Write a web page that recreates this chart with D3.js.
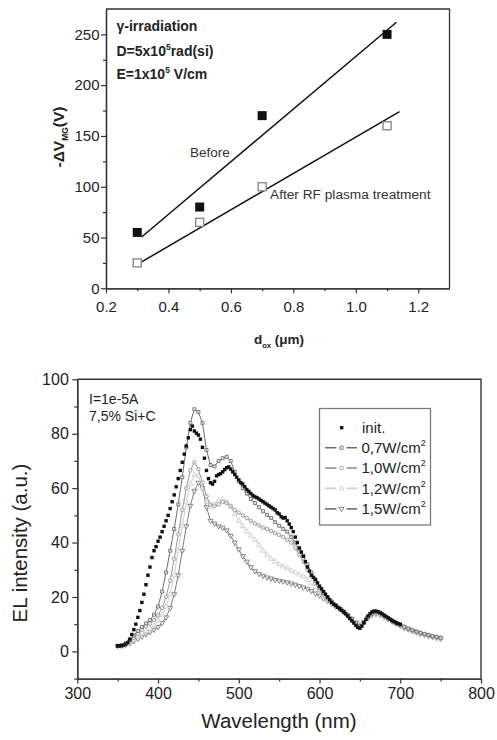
<!DOCTYPE html>
<html>
<head>
<meta charset="utf-8">
<script src="https://cdn.jsdelivr.net/npm/d3@7"></script>
<style>
  html, body { margin: 0; padding: 0; background: #fff; }
  svg { display: block; font-family: "Liberation Sans", Arial, Helvetica, sans-serif; }
</style>
</head>
<body>
<svg id="fig" width="497" height="740"></svg>
<script>
// ---------- Panel 1: flat-band shift vs. oxide thickness ----------
const doxValues = [0.3, 0.5, 0.7, 1.1];
const shiftBefore = [55, 80, 170, 250];
const shiftAfter = [25, 65, 100, 160];
// linear fits drawn as segments [x, y]
const fitBefore = [[0.314, 50.5], [1.13, 262]];
const fitAfter = [[0.314, 26], [1.14, 174]];
const topXTicks = [0.2, 0.4, 0.6, 0.8, 1.0, 1.2];
const topXMinor = [0.3, 0.5, 0.7, 0.9, 1.1];
const topYTicks = [0, 50, 100, 150, 200, 250];
const topYMinor = [25, 75, 125, 175, 225];

// ---------- Panel 2: EL spectra ----------
const initWavelength = d3.range(350, 700.01, 2.5);
const initIntensity = [
  2.0, 2.0, 2.1, 2.3, 2.7, 3.3, 4.5, 6.2, 8.0, 10.0,
  12.5, 15.0, 18.0, 21.0, 24.5, 28.0, 31.0, 34.5, 37.0, 38.5,
  40.5, 42.0, 44.0, 46.0, 48.0, 50.0, 52.5, 55.0, 57.5, 60.5,
  63.5, 66.5, 69.5, 72.5, 75.5, 78.5, 81.5, 82.8, 81.0, 80.2,
  79.5, 78.0, 75.0, 71.0, 66.5, 63.5, 62.0, 61.5, 62.5, 64.5,
  65.0, 65.3, 66.0, 66.8, 67.5, 67.8, 67.0, 66.0, 65.0, 64.0,
  63.0, 62.0, 61.5, 60.5, 59.5, 58.8, 58.0, 57.3, 56.8, 56.5,
  56.0, 55.5, 55.0, 54.5, 54.0, 53.5, 53.0, 52.5, 52.0, 51.0,
  50.5, 49.5, 49.0, 49.2, 48.0, 46.8, 45.5, 44.0, 42.0, 40.0,
  38.0, 36.5, 35.0, 33.0, 31.0, 29.5, 28.0, 27.2, 26.5, 25.2,
  24.0, 23.0, 22.0, 21.0, 20.0, 19.0, 18.0, 17.4, 16.8, 16.2,
  15.7, 15.1, 14.5, 13.8, 13.0, 12.1, 11.2, 10.4, 9.5, 8.8,
  8.5, 9.3, 10.5, 11.8, 13.0, 13.9, 14.5, 14.8, 14.8, 14.6,
  14.3, 13.8, 13.3, 12.8, 12.3, 11.8, 11.3, 10.9, 10.5, 10.2,
  10.0
];
const treatedWavelength = d3.range(350, 750.01, 5);
const el07 = [
  2.0, 2.3, 3.0, 4.2, 5.8, 7.5, 9.0, 10.3, 11.5, 13.5,
  16.5, 22, 29, 37, 45, 54, 64, 75, 84, 89,
  88, 84, 74, 68.5, 68, 70, 71, 71.5, 70, 66,
  62.5, 60, 58, 56, 54.5, 53, 51.5, 50.2, 49, 47.5,
  46.2, 45, 44, 42, 40, 37.5, 35, 32, 29, 26,
  23.5, 21.5, 19.8, 18.3, 17, 15.8, 14.6, 13.2, 11.8, 10.3,
  9.3, 10.6, 12.6, 14, 14.5, 14.1, 13.2, 12.3, 11.4, 10.5,
  9.7, 9.0, 8.4, 7.8, 7.3, 6.8, 6.4, 6.0, 5.6, 5.3,
  5.0
];
const el10 = [
  2.0, 2.2, 2.8, 3.8, 5.0, 6.5, 8.0, 9.2, 10.2, 11.5,
  13.3, 16, 20, 26, 34, 43, 52, 60, 66.5, 69.5,
  67, 62, 57, 54, 53.5, 54, 55, 54.5, 53.5, 52,
  51, 50, 49, 48, 47, 46.3, 45.5, 45, 44.2, 43.5,
  42.8, 42, 41, 40, 38, 35.5, 33, 30, 27.5, 25,
  22.5, 21, 19.5, 18.2, 17, 15.8, 14.6, 13.3, 11.9, 10.5,
  9.5, 10.6, 12.5, 13.8, 14.2, 13.9, 13.0, 12.1, 11.2, 10.4,
  9.6, 8.9, 8.3, 7.7, 7.2, 6.7, 6.3, 5.9, 5.5, 5.2,
  4.9
];
const el12 = [
  2.0, 2.1, 2.5, 3.3, 4.3, 5.5, 6.6, 7.5, 8.3, 9.5,
  11.4, 13.5, 16.5, 21, 28, 37, 46, 55, 61.5, 65,
  64.5, 60, 55, 53, 54, 55.5, 56, 55, 53, 50.5,
  48, 46, 44, 42.5, 41, 39, 37, 35.5, 34, 33,
  32, 31.2, 30.5, 29.7, 29, 28.2, 27.5, 26.3, 25, 23.7,
  22, 20.5, 19.3, 18, 16.8, 15.7, 14.5, 13.2, 11.9, 10.6,
  9.7, 10.7, 12.4, 13.6, 14.0, 13.7, 12.9, 12.0, 11.1, 10.3,
  9.5, 8.8, 8.2, 7.6, 7.1, 6.6, 6.2, 5.8, 5.4, 5.1,
  4.8
];
const el15 = [
  2.0, 2.1, 2.4, 3.0, 3.8, 4.7, 5.5, 6.3, 7.1, 8.0,
  9.0, 10.5, 12.5, 16, 21, 28, 37, 46, 53.5, 59,
  62, 60, 53, 48, 47, 46, 45.5, 44.5, 42.5, 40,
  37.5, 35, 33, 31, 29.5, 28.5, 27.8, 27.2, 26.8, 26.3,
  26, 25.7, 25.4, 25, 24.5, 24, 23.5, 23, 22.2, 21.3,
  20.5, 19.5, 18.5, 17.5, 16.5, 15.5, 14.4, 13.2, 12.0, 10.7,
  9.8, 10.8, 12.3, 13.4, 13.8, 13.5, 12.7, 11.9, 11.0, 10.2,
  9.4, 8.7, 8.1, 7.5, 7.0, 6.5, 6.1, 5.7, 5.3, 5.0,
  4.7
];
const powerLabels = ["0,7W/cm", "1,0W/cm", "1,2W/cm", "1,5W/cm"];
const botXTicks = [300, 400, 500, 600, 700, 800];
const botXMinor = [350, 450, 550, 650, 750];
const botYTicks = [0, 20, 40, 60, 80, 100];
const botYMinor = [-10, 10, 30, 50, 70, 90];

const svg = d3.select("#fig");
const axisColor = "#333";

// ================= Panel 1 =================
const x1 = d3.scaleLinear().domain([0.2, 1.3]).range([106, 449.5]);
const y1 = d3.scaleLinear().domain([0, 275]).range([288.3, 9]);
const p1 = svg.append("g");

function styleAxis(g) {
  g.select(".domain").attr("stroke", axisColor).attr("stroke-width", 1.3);
  g.selectAll(".tick line").attr("stroke", axisColor).attr("stroke-width", 1.2);
}

// frame (top + right)
p1.append("path")
  .attr("d", `M${x1(0.2)},${y1(275)}H${x1(1.3)}V${y1(0)}`)
  .attr("fill", "none").attr("stroke", axisColor).attr("stroke-width", 1.3);

// minor ticks
p1.append("g").attr("transform", `translate(0,${y1(0)})`)
  .call(d3.axisBottom(x1).tickValues(topXMinor).tickSize(3).tickFormat("").tickSizeOuter(0))
  .call(styleAxis);
p1.append("g").attr("transform", `translate(${x1(0.2)},0)`)
  .call(d3.axisLeft(y1).tickValues(topYMinor).tickSize(3).tickFormat("").tickSizeOuter(0))
  .call(styleAxis);
// major ticks
p1.append("g").attr("transform", `translate(0,${y1(0)})`)
  .call(d3.axisBottom(x1).tickValues(topXTicks).tickSize(5).tickPadding(8)
    .tickFormat(d3.format(".1f")).tickSizeOuter(0))
  .call(styleAxis)
  .call(g => g.selectAll("text").attr("font-size", 15).attr("fill", "#222")
    .attr("font-family", "Liberation Sans, Arial, sans-serif"));
p1.append("g").attr("transform", `translate(${x1(0.2)},0)`)
  .call(d3.axisLeft(y1).tickValues(topYTicks).tickSize(5).tickPadding(1.5).tickSizeOuter(0))
  .call(styleAxis)
  .call(g => g.selectAll("text").attr("font-size", 15).attr("fill", "#222")
    .attr("font-family", "Liberation Sans, Arial, sans-serif"));

// fit lines
const line1 = d3.line().x(d => x1(d[0])).y(d => y1(d[1]));
p1.append("path").attr("d", line1(fitBefore)).attr("stroke", "#111").attr("stroke-width", 1.5).attr("fill", "none");
p1.append("path").attr("d", line1(fitAfter)).attr("stroke", "#111").attr("stroke-width", 1.5).attr("fill", "none");

// markers
const sq = 9;
p1.selectAll("rect.before").data(doxValues).join("rect")
  .attr("class", "before")
  .attr("x", d => x1(d) - sq / 2).attr("y", (d, i) => y1(shiftBefore[i]) - sq / 2)
  .attr("width", sq).attr("height", sq).attr("fill", "#111");
p1.selectAll("rect.after").data(doxValues).join("rect")
  .attr("class", "after")
  .attr("x", d => x1(d) - (sq - 1) / 2).attr("y", (d, i) => y1(shiftAfter[i]) - (sq - 1) / 2)
  .attr("width", sq - 1).attr("height", sq - 1).attr("fill", "#fff")
  .attr("stroke", "#8a8a8a").attr("stroke-width", 1.4);

// annotations
const note1 = p1.append("g").attr("font-weight", "bold").attr("font-size", 14).attr("fill", "#222");
note1.append("text").attr("x", 116.5).attr("y", 31).text("γ-irradiation");
const dLine = note1.append("text").attr("x", 116.5).attr("y", 56);
dLine.append("tspan").text("D=5x10");
dLine.append("tspan").attr("dy", -6).attr("font-size", 8.5).text("5");
dLine.append("tspan").attr("dy", 6).text("rad(si)");
const eLine = note1.append("text").attr("x", 116.5).attr("y", 78.5);
eLine.append("tspan").text("E=1x10");
eLine.append("tspan").attr("dy", -6).attr("font-size", 8.5).text("5");
eLine.append("tspan").attr("dy", 6).text(" V/cm");

p1.append("text").attr("x", 190).attr("y", 157).attr("font-size", 13.5).attr("fill", "#333").text("Before");
p1.append("text").attr("x", 270).attr("y", 199).attr("font-size", 13.7).attr("fill", "#333").text("After RF plasma treatment");

// axis titles
const yt1 = p1.append("text").attr("transform", "translate(64,137) rotate(-90)")
  .attr("text-anchor", "middle").attr("font-weight", "bold").attr("font-size", 15.5).attr("fill", "#222");
yt1.append("tspan").text("-ΔV");
yt1.append("tspan").attr("dy", 3.5).attr("font-size", 8.5).text("MG");
yt1.append("tspan").attr("dy", -3.5).text("(V)");

const xt1 = p1.append("text").attr("x", 279).attr("y", 344)
  .attr("text-anchor", "middle").attr("font-weight", "bold").attr("font-size", 13.5).attr("fill", "#222");
xt1.append("tspan").text("d");
xt1.append("tspan").attr("dy", 3.5).attr("font-size", 7.5).text("ox");
xt1.append("tspan").attr("dy", -3.5).text(" (μm)");

// ================= Panel 2 =================
const x2 = d3.scaleLinear().domain([300, 800]).range([77.3, 481]);
const y2 = d3.scaleLinear().domain([-10, 100]).range([678.6, 379.3]);
const p2 = svg.append("g");

p2.append("path")
  .attr("d", `M${x2(300)},${y2(100)}H${x2(800)}V${y2(-10)}`)
  .attr("fill", "none").attr("stroke", axisColor).attr("stroke-width", 1.4);

p2.append("g").attr("transform", `translate(0,${y2(-10)})`)
  .call(d3.axisBottom(x2).tickValues(botXMinor).tickSize(3).tickFormat("").tickSizeOuter(0))
  .call(styleAxis);
p2.append("g").attr("transform", `translate(${x2(300)},0)`)
  .call(d3.axisLeft(y2).tickValues(botYMinor).tickSize(3).tickFormat("").tickSizeOuter(0))
  .call(styleAxis);
p2.append("g").attr("transform", `translate(0,${y2(-10)})`)
  .call(d3.axisBottom(x2).tickValues(botXTicks).tickSize(5).tickPadding(4).tickSizeOuter(0))
  .call(styleAxis)
  .call(g => g.selectAll("text").attr("font-size", 16).attr("fill", "#222")
    .attr("font-family", "Liberation Sans, Arial, sans-serif"));
p2.append("g").attr("transform", `translate(${x2(300)},0)`)
  .call(d3.axisLeft(y2).tickValues(botYTicks).tickSize(5).tickPadding(3.5).tickSizeOuter(0))
  .call(styleAxis)
  .call(g => g.selectAll("text").attr("font-size", 16).attr("fill", "#222")
    .attr("font-family", "Liberation Sans, Arial, sans-serif"));

// treated-sample spectra: thin line + open symbols
const treated = [
  { values: el15, color: "#7d7d7d", symbol: d3.symbolTriangle, flip: true, size: 11 },
  { values: el12, color: "#cfcfcf", symbol: d3.symbolTriangle, flip: false, size: 11 },
  { values: el10, color: "#9a9a9a", symbol: d3.symbolCircle, flip: false, size: 10 },
  { values: el07, color: "#6e6e6e", symbol: d3.symbolSquare, flip: false, size: 9 }
];
const line2 = d3.line().x(d => x2(d[0])).y(d => y2(d[1]));
treated.forEach(s => {
  const pts = treatedWavelength.map((w, i) => [w, s.values[i]]);
  const g = p2.append("g");
  g.append("path").attr("d", line2(pts)).attr("fill", "none")
    .attr("stroke", s.color).attr("stroke-width", 1);
  g.selectAll("path.sym").data(pts).join("path").attr("class", "sym")
    .attr("d", d3.symbol().type(s.symbol).size(s.size))
    .attr("transform", d => `translate(${x2(d[0])},${y2(d[1])})${s.flip ? " rotate(180)" : ""}`)
    .attr("fill", "#fff").attr("fill-opacity", 0.6)
    .attr("stroke", s.color).attr("stroke-width", 0.9);
});

// untreated spectrum: solid black dots
p2.append("g").selectAll("rect").data(initWavelength).join("rect")
  .attr("x", d => x2(d) - 1.7).attr("y", (d, i) => y2(initIntensity[i]) - 1.7)
  .attr("width", 3.4).attr("height", 3.4).attr("fill", "#111");

// in-plot notes
p2.append("text").attr("x", 89).attr("y", 403.5).attr("font-size", 14).attr("fill", "#222").text("I=1e-5A");
p2.append("text").attr("x", 89).attr("y", 421).attr("font-size", 14).attr("fill", "#222").text("7,5% Si+C");

// legend
const lg = p2.append("g");
lg.append("rect").attr("x", 319.5).attr("y", 408.5).attr("width", 111).attr("height", 116.5)
  .attr("fill", "#fff").attr("stroke", "#7a7a7a").attr("stroke-width", 1.3);
const rowY = [427.7, 447.8, 468.1, 488.4, 508.9];
lg.append("rect").attr("x", 340).attr("y", rowY[0] - 1.7).attr("width", 3.4).attr("height", 3.4).attr("fill", "#111");
lg.append("text").attr("x", 362).attr("y", rowY[0] + 5.2).attr("font-size", 15).attr("fill", "#222").text("init.");
const legendOrder = [treated[3], treated[2], treated[1], treated[0]];
legendOrder.forEach((s, i) => {
  const yy = rowY[i + 1];
  lg.append("path").attr("d", `M325,${yy}H336.5M346.5,${yy}H357`).attr("stroke", s.color).attr("stroke-width", 1.6);
  lg.append("path").attr("d", d3.symbol().type(s.symbol).size(s.size)())
    .attr("transform", `translate(341.5,${yy})${s.flip ? " rotate(180)" : ""}`)
    .attr("fill", "#fff").attr("stroke", s.color).attr("stroke-width", 0.9);
  const t = lg.append("text").attr("x", 361.5).attr("y", yy + 5.2).attr("font-size", 15).attr("fill", "#222");
  t.append("tspan").text(powerLabels[i]);
  t.append("tspan").attr("dy", -7).attr("font-size", 9).text("2");
});

// axis titles
p2.append("text").attr("transform", "translate(27,543) rotate(-90)")
  .attr("text-anchor", "middle").attr("font-size", 20.5).attr("fill", "#222").text("EL intensity (a.u.)");
p2.append("text").attr("x", 279).attr("y", 728)
  .attr("text-anchor", "middle").attr("font-size", 20.5).attr("fill", "#222").text("Wavelength (nm)");
</script>
</body>
</html>
